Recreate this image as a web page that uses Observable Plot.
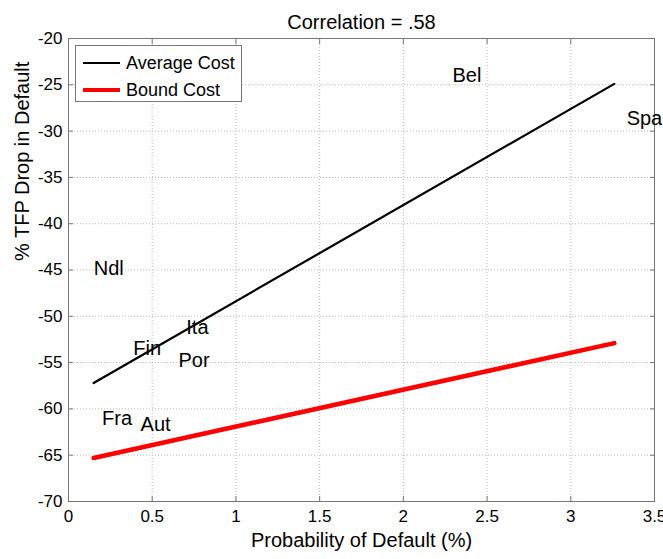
<!DOCTYPE html>
<html>
<head>
<meta charset="utf-8">
<script src="https://cdn.jsdelivr.net/npm/d3@7"></script>
<script src="https://cdn.jsdelivr.net/npm/@observablehq/plot@0.6"></script>
<style>
  body { margin: 0; background: #fff; font-family: "Liberation Sans", Arial, Helvetica, sans-serif; }
  #wrap { position: relative; width: 663px; height: 559px; }
  #legend { position: absolute; left: 75px; top: 45px; width: 167px; height: 57px; border: 1px solid #777; background: #fff; box-sizing: border-box; font-size: 18px; color: #000; }
  .row { position: absolute; left: 7px; height: 22px; display: flex; align-items: center; }
  .sw { width: 37px; margin-right: 6px; }
</style>
</head>
<body>
<div id="wrap"></div>
<script>
const title = "Correlation = .58";
const xLabel = "Probability of Default (%)";
const yLabel = "% TFP Drop in Default";
const xTicks = [0, 0.5, 1, 1.5, 2, 2.5, 3, 3.5];
const yTicks = [-70, -65, -60, -55, -50, -45, -40, -35, -30, -25, -20];

const countries = ["Bel", "Spa", "Ndl", "Ita", "Fin", "Por", "Fra", "Aut"];
const pd = [2.38, 3.44, 0.24, 0.77, 0.47, 0.75, 0.29, 0.52];
const tfp = [-24.0, -28.7, -44.9, -51.2, -53.5, -54.8, -61.1, -61.7];

const fitX = [0.15, 3.26];
const avgCostY = [-57.2, -24.9];
const boundCostY = [-65.3, -52.9];

const seriesNames = ["Average Cost", "Bound Cost"];
const seriesColors = ["#000000", "#ff0000"];

const labels = countries.map((c, i) => ({c, x: pd[i], y: tfp[i]}));
const avg = fitX.map((x, i) => ({x, y: avgCostY[i]}));
const bound = fitX.map((x, i) => ({x, y: boundCostY[i]}));
const fmt = d => `${d}`;

const chart = Plot.plot({
  width: 663,
  height: 559,
  marginLeft: 68,
  marginRight: 9,
  marginTop: 38,
  marginBottom: 58,
  style: {fontFamily: "'Liberation Sans', Arial, Helvetica, sans-serif", fontSize: "16px", color: "#000", background: "#fff"},
  x: {domain: [0, 3.5]},
  y: {domain: [-70, -20]},
  marks: [
    Plot.gridX(xTicks, {stroke: "#bbb", strokeOpacity: 1, strokeDasharray: "1,2"}),
    Plot.gridY(yTicks, {stroke: "#bbb", strokeOpacity: 1, strokeDasharray: "1,2"}),
    Plot.frame({stroke: "#777"}),
    Plot.axisX(xTicks, {anchor: "bottom", tickSize: -5, tickPadding: 13, tickFormat: fmt, label: null, stroke: "#777", fontSize: 17}),
    Plot.axisX(xTicks, {anchor: "top", tickSize: -5, tickFormat: () => "", label: null, stroke: "#777"}),
    Plot.axisY(yTicks, {anchor: "left", tickSize: -5, tickPadding: 11, tickFormat: fmt, label: null, stroke: "#777", fontSize: 17}),
    Plot.axisY(yTicks, {anchor: "right", tickSize: -5, tickFormat: () => "", label: null, stroke: "#777"}),
    Plot.line(avg, {x: "x", y: "y", stroke: seriesColors[0], strokeWidth: 2.2}),
    Plot.line(bound, {x: "x", y: "y", stroke: seriesColors[1], strokeWidth: 4.5}),
    Plot.text(labels, {x: "x", y: "y", text: "c", fontSize: 20, fill: "#000"}),
    Plot.text([title], {frameAnchor: "top", dy: -24, fontSize: 20, fill: "#000"}),
    Plot.text([xLabel], {frameAnchor: "bottom", dy: 45, fontSize: 20, fill: "#000"}),
    Plot.text([yLabel], {frameAnchor: "left", dx: -46, dy: -9, rotate: -90, fontSize: 20, fill: "#000"})
  ]
});

const wrap = document.getElementById("wrap");
wrap.appendChild(chart);

const legend = document.createElement("div");
legend.id = "legend";
seriesNames.forEach((name, i) => {
  const row = document.createElement("div");
  row.className = "row";
  row.style.top = (i === 0 ? 6 : 33) + "px";
  const sw = document.createElement("div");
  sw.className = "sw";
  sw.style.height = (i === 0 ? 2 : 4.5) + "px";
  sw.style.background = seriesColors[i];
  const t = document.createElement("span");
  t.textContent = name;
  row.appendChild(sw);
  row.appendChild(t);
  legend.appendChild(row);
});
wrap.appendChild(legend);
</script>
</body>
</html>
